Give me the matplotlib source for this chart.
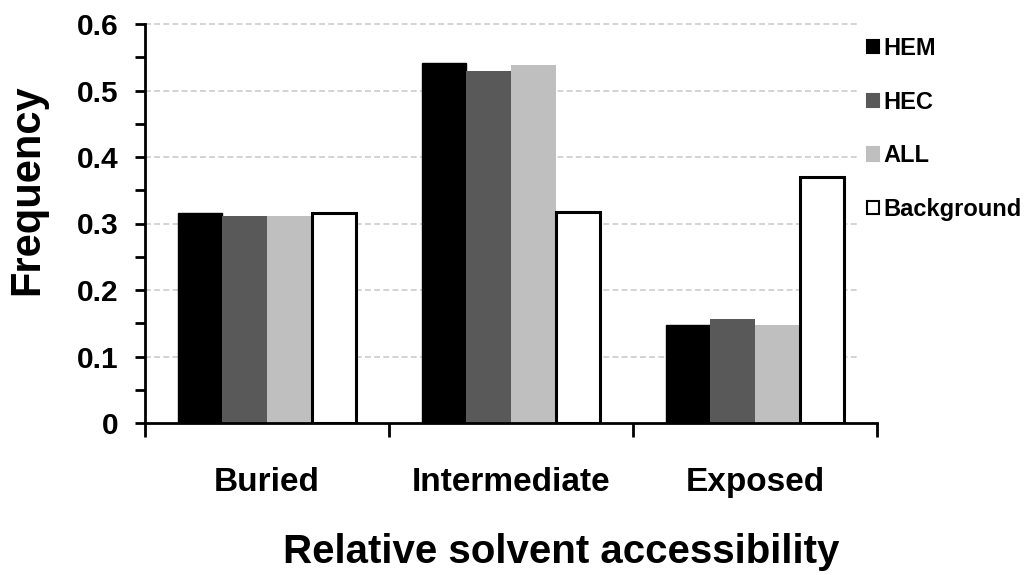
import matplotlib
matplotlib.use("Agg")
import matplotlib.pyplot as plt
import numpy as np
from matplotlib.patches import Patch

categories = ["Buried", "Intermediate", "Exposed"]
series_names = ["HEM", "HEC", "ALL", "Background"]
hem = [0.316, 0.541, 0.148]
hec = [0.311, 0.529, 0.156]
all_ = [0.312, 0.538, 0.148]
background = [0.316, 0.317, 0.370]
yticks = [0, 0.1, 0.2, 0.3, 0.4, 0.5, 0.6]
ytick_labels = ["0", "0.1", "0.2", "0.3", "0.4", "0.5", "0.6"]

plt.rcParams['font.family'] = ['Liberation Sans', 'DejaVu Sans']
plt.rcParams['font.weight'] = 'bold'

fig = plt.figure(figsize=(10.29, 5.75), dpi=100)
ax = fig.add_axes([145/1029, 1-423/575, (877-145)/1029, (423-24)/575])

series = [hem, hec, all_, background]
faces = ["#000000", "#595959", "#bfbfbf", "#ffffff"]
edges = ["#000000", "#595959", "#bfbfbf", "#000000"]
lws = [1.0, 0.0, 0.0, 2.2]
w = 0.183
x = np.arange(len(categories)) + 0.5
for i, (vals, fc, ec, lw) in enumerate(zip(series, faces, edges, lws)):
    ax.bar(x + (i - 1.5) * w, vals, width=w, color=fc, edgecolor=ec,
           linewidth=lw, label=series_names[i], zorder=3)

ax.set_xlim(0, 3)
ax.set_ylim(0, 0.6)
for yv in yticks[1:]:
    ax.hlines(yv, 0, 2.93, colors="#cccccc", linestyles=(0, (3.5, 2)),
              linewidth=1.2, zorder=1, clip_on=False)

for s in ["top", "right"]:
    ax.spines[s].set_visible(False)
for s in ["left", "bottom"]:
    ax.spines[s].set_linewidth(2)
    ax.spines[s].set_zorder(4)

ax.set_yticks(yticks)
ax.set_yticklabels(ytick_labels, fontsize=21.5, fontweight='bold')
ax.set_yticks(np.arange(0.05, 0.6, 0.1), minor=True)
ax.tick_params(axis='y', which='both', direction='out', length=7, width=2, pad=12)

ax.set_xticks([0, 1, 2, 3])
ax.set_xticklabels([])
ax.set_xticks(x, minor=True)
ax.set_xticklabels(categories, minor=True, fontsize=24, fontweight='bold')
ax.tick_params(axis='x', which='major', direction='out', length=10, width=2)
ax.tick_params(axis='x', which='minor', length=0, pad=32)

fig.text(27/1029, 1-190/575, "Frequency", rotation=90, ha='center', va='center',
         fontsize=30, fontweight='bold')
fig.text(561/1029, 1-563/575, "Relative solvent accessibility", ha='center',
         va='baseline', fontsize=29, fontweight='bold')

handles = [Patch(facecolor=fc, edgecolor=("#000000" if i in (0, 3) else fc), linewidth=1.5)
           for i, fc in enumerate(faces)]
leg = ax.legend(handles, series_names, loc='upper left', bbox_to_anchor=(867/1029, 1-37/575),
                bbox_transform=fig.transFigure, frameon=False, fontsize=17,
                handlelength=0.5, handleheight=0.5, handletextpad=0.2,
                labelspacing=1.3, borderaxespad=0, borderpad=0)
for t in leg.get_texts():
    t.set_fontweight('bold')

fig.savefig("out.png", dpi=100)
